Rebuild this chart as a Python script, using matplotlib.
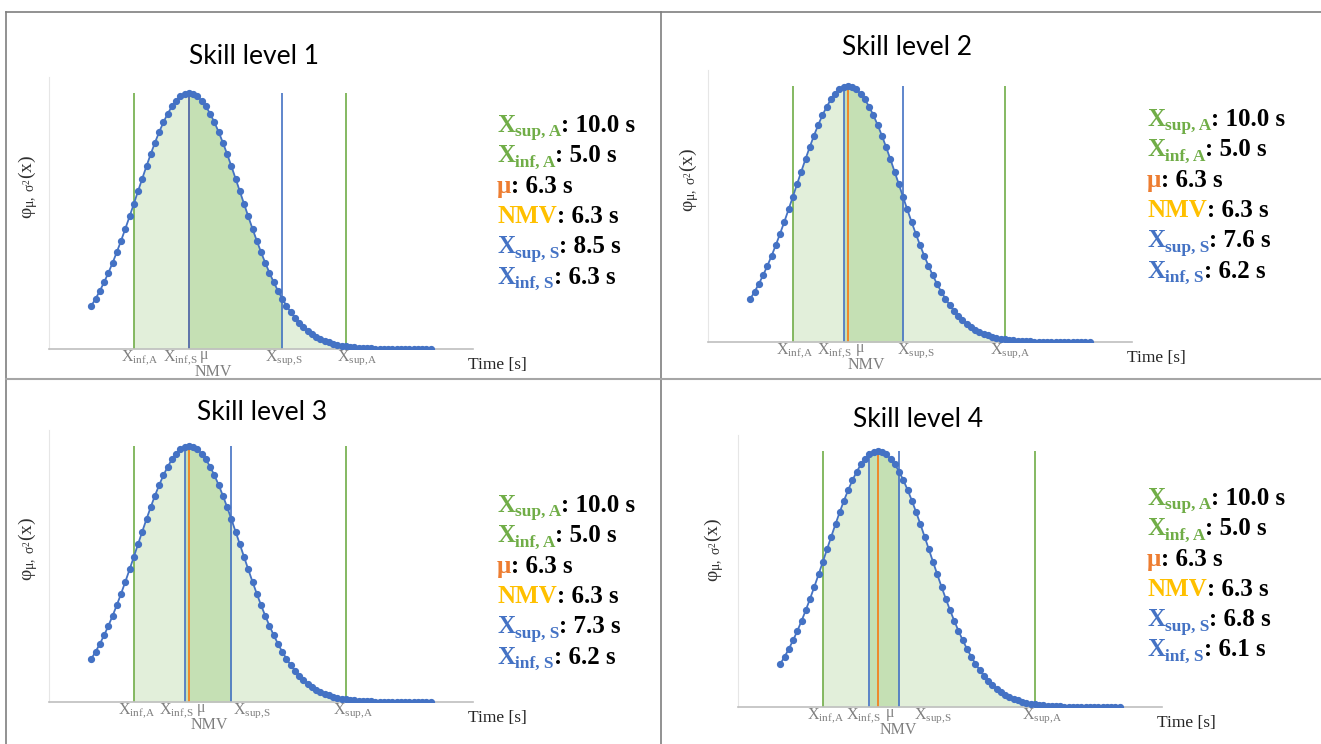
import numpy as np
import matplotlib.pyplot as plt

plt.rcParams['font.family'] = ['Liberation Serif', 'DejaVu Serif']
plt.rcParams['mathtext.fontset'] = 'custom'
plt.rcParams['mathtext.rm'] = 'Liberation Serif'
plt.rcParams['mathtext.it'] = 'Liberation Serif:italic'
plt.rcParams['mathtext.bf'] = 'Liberation Serif:bold'

W, H = 1321, 744

# values
titles = ['Skill level 1', 'Skill level 2', 'Skill level 3', 'Skill level 4']
mu = [6.3, 6.3, 6.3, 6.3]
nmv = [6.3, 6.3, 6.3, 6.3]
sigma = [1.22, 1.22, 1.22, 1.22]
x_inf_a = [5.0, 5.0, 5.0, 5.0]
x_sup_a = [10.0, 10.0, 10.0, 10.0]
x_inf_s = [6.3, 6.2, 6.2, 6.1]
x_sup_s = [8.5, 7.6, 7.3, 6.8]
t_first, t_last, t_step = 4.0, 12.0, 0.1

# colours (office palette)
GREEN = '#70AD47'
ORANGE = '#ED7D31'
GOLD = '#FFC000'
BLUE = '#4472C4'
LIGHT_FILL = '#E2EFDA'
DARK_FILL = '#C5E0B4'
GREY_TXT = '#7F7F7F'

# layout in pixels (x from left, y from top)
ax_pos = [(49, 349), (708, 342), (49, 702), (738, 707)]
title_pos = [(254, 64), (907, 55), (262, 420), (918, 427)]
legend_pos = [(497, 132), (1147, 126), (497, 512), (1147, 505)]
ylabel_pos = [(28, 187), (689, 180), (28, 549), (714, 550)]
# x offsets (px) of the tick labels: inf_A, inf_S, mu, NMV, sup_S, sup_A
lab_dx = [[6, -9, 15, 24, 2, 11],
          [2, -9, 12, 18, 13, 5],
          [3, -8, 12, 20, 21, 7],
          [3, -6, 12, 20, 34, 7]]
AX_W, AX_H = 424, 272
ROW = 30.3

fig = plt.figure(figsize=(W / 100, H / 100), dpi=100)
bg = fig.add_axes([0, 0, 1, 1])
bg.set_xlim(0, W)
bg.set_ylim(H, 0)
bg.axis('off')

# panel frame lines
bg.plot([6, W], [12, 12], color='#7F7F7F', lw=1.2)
bg.plot([6, 6], [12, H], color='#7F7F7F', lw=1.2)
bg.plot([661, 661], [12, H], color='#7F7F7F', lw=1.2)
bg.plot([6, W], [379, 379], color='#A6A6A6', lw=1.5)


def legend_row(x, y, sym, sub, color, value):
    t = bg.text(x, y, sym, color=color, fontsize=18, fontweight='bold',
                va='baseline', ha='left')
    last = t
    if sub:
        last = bg.annotate(sub, xy=(1, 0), xycoords=t, xytext=(0, -2.4),
                           textcoords='offset points', color=color,
                           fontsize=12.5, fontweight='bold', va='bottom')
    bg.annotate(': %.1f s' % value, xy=(1, 0), xycoords=(last, t),
                va='bottom', fontsize=18, fontweight='bold', color='black')


t = np.round(np.arange(t_first, t_last + t_step / 2, t_step), 1)

for i in range(4):
    left, bottom = ax_pos[i]
    ax = fig.add_axes([left / W, 1 - bottom / H, AX_W / W, AX_H / H])
    ax.set_facecolor('none')

    pdf = np.exp(-0.5 * ((t - mu[i]) / sigma[i]) ** 2) / (sigma[i] * np.sqrt(2 * np.pi))
    peak = 1 / (sigma[i] * np.sqrt(2 * np.pi))

    in_a = (t >= x_inf_a[i] - 1e-9) & (t <= x_sup_a[i] + 1e-9)
    in_s = (t >= x_inf_s[i] - 1e-9) & (t <= x_sup_s[i] + 1e-9)
    ax.fill_between(t, 0, pdf, where=in_a, color=LIGHT_FILL, lw=0)
    ax.fill_between(t, 0, pdf, where=in_s, color=DARK_FILL, lw=0)

    ax.vlines([x_inf_a[i], x_sup_a[i]], 0, peak, colors=GREEN, lw=1.2)
    ax.vlines(nmv[i], 0, peak, colors=GOLD, lw=1.2)
    ax.vlines(mu[i], 0, peak, colors=ORANGE, lw=1.2)
    ax.vlines([x_inf_s[i], x_sup_s[i]], 0, peak, colors=BLUE, lw=1.2)

    ax.plot(t, pdf, '-o', color=BLUE, lw=1.3, ms=4.2, zorder=5)

    ax.set_xlim(3, 13)
    ax.set_ylim(0, peak * AX_H / 256)
    ax.set_xticks([])
    ax.set_yticks([])
    for s in ['top', 'right']:
        ax.spines[s].set_visible(False)
    ax.spines['left'].set_color('#E6E6E6')
    ax.spines['bottom'].set_color('#BFBFBF')
    ax.spines['bottom'].set_linewidth(1.2)

    # labels under the axis
    dx = lab_dx[i]
    labs = [(x_inf_a[i], r'$\mathregular{X_{inf,\!A}}$', dx[0], -12),
            (x_inf_s[i], r'$\mathregular{X_{inf,\!S}}$', dx[1], -12),
            (mu[i], r'$\mathregular{\mu}$', dx[2], -10),
            (nmv[i], 'NMV', dx[3], -27),
            (x_sup_s[i], r'$\mathregular{X_{sup,\!S}}$', dx[4], -12),
            (x_sup_a[i], r'$\mathregular{X_{sup,\!A}}$', dx[5], -12)]
    for xv, s, ox, oy in labs:
        ax.annotate(s, xy=(xv, 0), xycoords=('data', 'axes fraction'),
                    xytext=(ox, oy), textcoords='offset pixels',
                    ha='center', va='baseline', fontsize=11.5, color=GREY_TXT,
                    annotation_clip=False)

    bg.text(left + AX_W - 5, bottom + 20, 'Time [s]', fontsize=12.5,
            color='#262626', ha='left', va='baseline')

    tx, ty = title_pos[i]
    bg.text(tx, ty, titles[i], family='Lato', fontsize=19, ha='center',
            va='baseline', color='black')

    yx, yy = ylabel_pos[i]
    bg.text(yx, yy, r'$\mathregular{φ_{μ,\ σ^2}(x)}$', rotation=90,
            ha='center', va='center', fontsize=14, color='#303030')

    lx, ly = legend_pos[i]
    rows = [('X', 'sup, A', GREEN, x_sup_a[i]),
            ('X', 'inf, A', GREEN, x_inf_a[i]),
            ('μ', '', ORANGE, mu[i]),
            ('NMV', '', GOLD, nmv[i]),
            ('X', 'sup, S', BLUE, x_sup_s[i]),
            ('X', 'inf, S', BLUE, x_inf_s[i])]
    for k, (sym, sub, c, v) in enumerate(rows):
        legend_row(lx, ly + k * ROW, sym, sub, c, v)

fig.savefig('out.png', dpi=100)
